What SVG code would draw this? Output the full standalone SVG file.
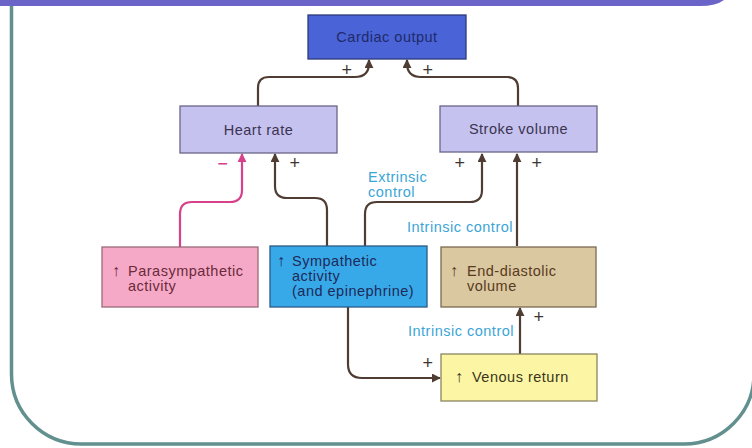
<svg xmlns="http://www.w3.org/2000/svg" width="752" height="448" viewBox="0 0 752 448">
  <defs>
    <marker id="arrowDark" viewBox="0 0 10 10" refX="9" refY="5" markerWidth="9" markerHeight="9" markerUnits="userSpaceOnUse" orient="auto">
      <path d="M0,0 L10,5 L0,10 Z" fill="#4f3d33"/>
    </marker>
    <marker id="arrowPink" viewBox="0 0 10 10" refX="9" refY="5" markerWidth="9" markerHeight="9" markerUnits="userSpaceOnUse" orient="auto">
      <path d="M0,0 L10,5 L0,10 Z" fill="#d6418a"/>
    </marker>
  </defs>
  <style>
    text { font-family: "Liberation Sans", Arial, sans-serif; font-size: 14.5px; letter-spacing: 0.5px; }
    .box { stroke-width: 1.3; }
    .conn { fill: none; stroke: #4f3d33; stroke-width: 2.2; }
    .pink { fill: none; stroke: #d6418a; stroke-width: 2.2; }
    .sign { fill: #3e3430; font-size: 18px; }
    .minus { fill: #d6418a; font-family: "DejaVu Sans", sans-serif; font-size: 14px; font-weight: bold; }
    .up { font-size: 16px; }
    .label { fill: #3ba6d6; }
    .frame { fill: none; stroke: #62908e; stroke-width: 3.5; }
  </style>

  <!-- page background, title bar and rounded frame -->
  <rect width="752" height="448" fill="#ffffff"/>
  <path d="M0,0 H724 Q716,6 700,6 H0 Z" fill="#6a64c8"/>
  <path class="frame" d="M11.5,6 V374 A70,70 0 0 0 81.5,444 H684 A70,70 0 0 0 754,374"/>

  <!-- connectors -->
  <g id="connectors">
    <path class="conn" d="M258,106 V88 Q258,77 269,77 H355 Q369,77 369,63 V60" marker-end="url(#arrowDark)"/>
    <path class="conn" d="M518,106 V88 Q518,77 507,77 H421 Q407,77 407,63 V60" marker-end="url(#arrowDark)"/>
    <path class="pink" d="M180,247 V214 Q180,202 192,202 H230 Q242,202 242,190 V154" marker-end="url(#arrowPink)"/>
    <path class="conn" d="M327,246 V210 Q327,198 315,198 H287 Q275,198 275,186 V154" marker-end="url(#arrowDark)"/>
    <path class="conn" d="M365,246 V214 Q365,202 377,202 H470 Q482,202 482,190 V154" marker-end="url(#arrowDark)"/>
    <path class="conn" d="M517,246 V154" marker-end="url(#arrowDark)"/>
    <path class="conn" d="M520,354 V308" marker-end="url(#arrowDark)"/>
    <path class="conn" d="M348,307 V364 Q348,378 362,378 H440" marker-end="url(#arrowDark)"/>

    <text class="sign" x="347" y="76" text-anchor="middle">+</text>
    <text class="sign" x="428" y="76" text-anchor="middle">+</text>
    <text class="minus" x="223" y="168" text-anchor="middle">−</text>
    <text class="sign" x="295" y="169" text-anchor="middle">+</text>
    <text class="sign" x="460" y="169" text-anchor="middle">+</text>
    <text class="sign" x="537" y="169" text-anchor="middle">+</text>
    <text class="sign" x="539" y="323" text-anchor="middle">+</text>
    <text class="sign" x="428" y="369" text-anchor="middle">+</text>

    <text class="label" x="368" y="182">Extrinsic</text>
    <text class="label" x="368" y="197">control</text>
    <text class="label" x="513" y="232" text-anchor="end">Intrinsic control</text>
    <text class="label" x="514" y="336" text-anchor="end">Intrinsic control</text>
  </g>

  <!-- nodes -->
  <g id="cardiac-output">
    <rect class="box" x="308" y="15" width="158" height="44" fill="#4a63d6" stroke="#2c3a7a"/>
    <text x="387" y="42" text-anchor="middle" fill="#1e2a6a">Cardiac output</text>
  </g>

  <g id="heart-rate">
    <rect class="box" x="180" y="106" width="157" height="47" fill="#c6c2ef" stroke="#6a6488"/>
    <text x="258.5" y="135" text-anchor="middle" fill="#3a3450">Heart rate</text>
  </g>

  <g id="stroke-volume">
    <rect class="box" x="440" y="106" width="157" height="46" fill="#c6c2ef" stroke="#6a6488"/>
    <text x="518.5" y="134" text-anchor="middle" fill="#3a3450">Stroke volume</text>
  </g>

  <g id="parasympathetic">
    <rect class="box" x="102" y="247" width="156" height="60" fill="#f5a9c6" stroke="#9a6a78"/>
    <text fill="#6b2a3c"><tspan class="up" x="112" y="276">↑</tspan><tspan x="128" y="276">Parasympathetic</tspan></text>
    <text x="128" y="291" fill="#6b2a3c">activity</text>
  </g>

  <g id="sympathetic">
    <rect class="box" x="270" y="246" width="157" height="61" fill="#38a9e8" stroke="#2a5a88"/>
    <text fill="#1e2a5a"><tspan class="up" x="277" y="266">↑</tspan><tspan x="292" y="266">Sympathetic</tspan></text>
    <text x="292" y="281" fill="#1e2a5a">activity</text>
    <text x="292" y="296" fill="#1e2a5a">(and epinephrine)</text>
  </g>

  <g id="end-diastolic-volume">
    <rect class="box" x="441" y="247" width="155" height="60" fill="#d9c8a0" stroke="#7a6a50"/>
    <text fill="#5a3a1e"><tspan class="up" x="450" y="276">↑</tspan><tspan x="467" y="276">End-diastolic</tspan></text>
    <text x="467" y="291" fill="#5a3a1e">volume</text>
  </g>

  <g id="venous-return">
    <rect class="box" x="441" y="354" width="156" height="47" fill="#fbf5a4" stroke="#8a8460"/>
    <text fill="#3a3520"><tspan class="up" x="455" y="382">↑</tspan><tspan x="472" y="382">Venous return</tspan></text>
  </g>
</svg>
